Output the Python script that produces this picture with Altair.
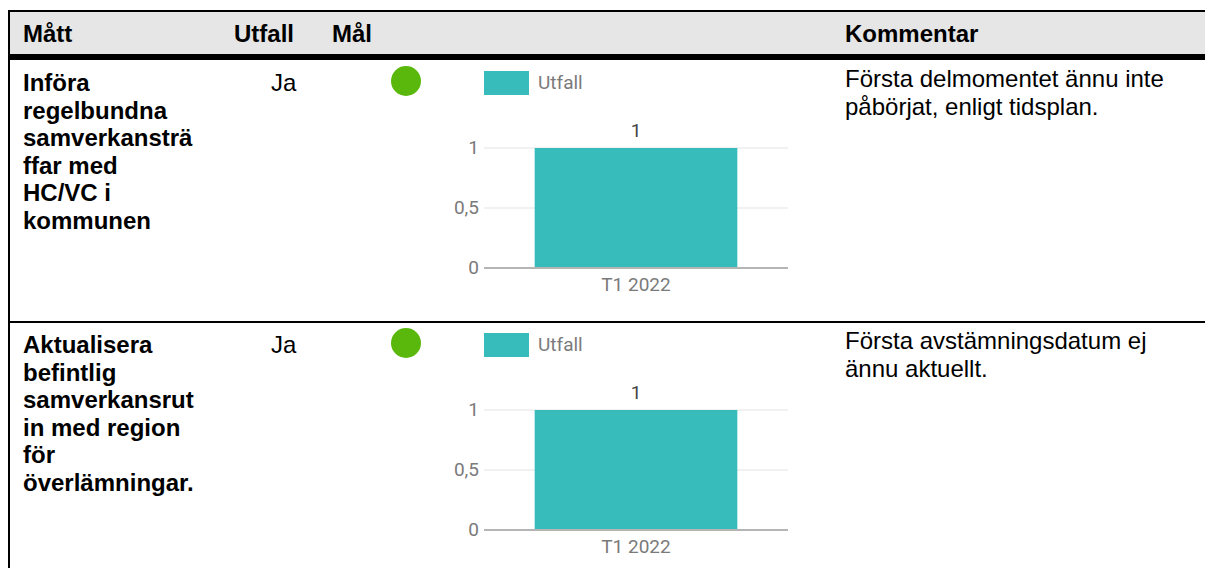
import altair as alt
import pandas as pd

# ---------------- data ----------------
headers = ["Mått", "Utfall", "Mål", "Kommentar"]
measures = [
    ["Införa", "regelbundna", "samverkansträ", "ffar med", "HC/VC i", "kommunen"],
    ["Aktualisera", "befintlig", "samverkansrut", "in med region", "för", "överlämningar."],
]
outcomes = ["Ja", "Ja"]
comments = [
    ["Första delmomentet ännu inte", "påbörjat, enligt tidsplan."],
    ["Första avstämningsdatum ej", "ännu aktuellt."],
]
status = ["green", "green"]
periods = ["T1 2022"]
values = [[1], [1]]
series_name = "Utfall"
tick_values = [0, 0.5, 1]
tick_labels = ["0", "0,5", "1"]

# ---------------- layout ----------------
W, H = 1197, 560
OX, OY = 8, 8
ROW_STEP = 262
BODY_FONT = "Liberation Sans"
CHART_FONT = "Roboto"
FS = 24
LH = 27.6
CFS = 19
STATUS_COLORS = {"green": "#5ab80c"}
TEAL = "#37bbbb"


def px(x):
    return x - OX


def py(y):
    return y - OY


one = pd.DataFrame({"a": [0]})
layers = []


def rect(x1, x2, y1, y2, color):
    return alt.Chart(one).mark_rect(color=color).encode(
        x=alt.value(px(x1)), x2=alt.value(px(x2)),
        y=alt.value(py(y1)), y2=alt.value(py(y2)))


def hrule(x1, x2, y, color, w):
    return alt.Chart(one).mark_rule(color=color, strokeWidth=w).encode(
        x=alt.value(px(x1)), x2=alt.value(px(x2)), y=alt.value(py(y)))


def vrule(x, y1, y2, color, w):
    return alt.Chart(one).mark_rule(color=color, strokeWidth=w).encode(
        x=alt.value(px(x)), y=alt.value(py(y1)), y2=alt.value(py(y2)))


def text(lines, x, y, bold=False, size=FS, font=BODY_FONT, color="#000000",
         align="left", baseline="alphabetic", lh=LH):
    df = pd.DataFrame({"t": ["\n".join(lines)]})
    return alt.Chart(df).mark_text(
        font=font, fontSize=size, fontWeight="bold" if bold else "normal",
        color=color, align=align, baseline=baseline, lineBreak="\n",
        lineHeight=lh).encode(
        x=alt.value(px(x)), y=alt.value(py(y)), text="t:N")


# table frame
layers.append(rect(8, 1213, 11, 54, "#e6e6e6"))
layers.append(hrule(8, 1213, 11, "#000000", 2))
layers.append(rect(8, 1213, 54, 60, "#000000"))
layers.append(hrule(8, 1213, 322, "#000000", 2))
layers.append(vrule(9, 10, 576, "#000000", 2))

# headers
hx = [23, 234, 332, 845]
for h, x in zip(headers, hx):
    layers.append(text([h], x, 42, bold=True))

# rows
for i in range(2):
    dy = ROW_STEP * i
    layers.append(text(measures[i], 23, 91 + dy, bold=True))
    layers.append(text([outcomes[i]], 271, 91 + dy))
    layers.append(text(comments[i], 845, 87 + dy))
    layers.append(alt.Chart(one).mark_circle(
        size=900, opacity=1, color=STATUS_COLORS[status[i]]).encode(
        x=alt.value(px(406)), y=alt.value(py(81 + dy))))

    # legend
    layers.append(rect(484, 529, 71 + dy, 95 + dy, TEAL))
    layers.append(text([series_name], 538, 83 + dy, size=CFS, font=CHART_FONT,
                       color="#7a7a7a", baseline="middle"))

    xs = alt.Scale(domain=periods, range=[px(484), px(788)],
                   paddingInner=0.2, paddingOuter=0.2)
    ys = alt.Scale(domain=[0, 1], range=[py(268 + dy), py(148 + dy)],
                   nice=False, zero=True)

    ticks = pd.DataFrame({"tick": tick_values, "label": tick_labels})
    bars = pd.DataFrame({"period": periods, "value": values[i]})

    layers.append(alt.Chart(ticks).mark_rule(color="#e3e3e3", strokeWidth=1).encode(
        y=alt.Y("tick:Q", scale=ys, axis=None),
        x=alt.value(px(484)), x2=alt.value(px(788))))
    layers.append(alt.Chart(ticks).mark_text(
        font=CHART_FONT, fontSize=CFS, color="#7a7a7a", align="right",
        baseline="middle").encode(
        y=alt.Y("tick:Q", scale=ys, axis=None),
        x=alt.value(px(479)), text="label:N"))
    layers.append(alt.Chart(bars).mark_bar(color=TEAL).encode(
        x=alt.X("period:N", scale=xs, axis=None),
        y=alt.Y("value:Q", scale=ys, axis=None)))
    layers.append(alt.Chart(ticks).transform_filter("datum.tick == 0").mark_rule(
        color="#b5b5b5", strokeWidth=2).encode(
        y=alt.Y("tick:Q", scale=ys, axis=None),
        x=alt.value(px(484)), x2=alt.value(px(788))))
    layers.append(alt.Chart(bars).mark_text(
        font=CHART_FONT, fontSize=CFS, color="#444444", baseline="bottom",
        dy=-7).encode(
        x=alt.X("period:N", scale=xs, axis=None),
        y=alt.Y("value:Q", scale=ys, axis=None),
        text=alt.Text("value:Q", format="d")))
    layers.append(alt.Chart(bars).mark_text(
        font=CHART_FONT, fontSize=CFS, color="#7a7a7a", baseline="middle").encode(
        x=alt.X("period:N", scale=xs, axis=None),
        y=alt.value(py(285 + dy)), text="period:N"))

chart = alt.layer(*layers).resolve_scale(
    x="independent", y="independent"
).properties(
    width=W, height=H, padding=0, autosize="none", background="#ffffff"
).configure_view(stroke=None)

chart.save("out.html", embed_options={"renderer": "svg", "actions": False})
